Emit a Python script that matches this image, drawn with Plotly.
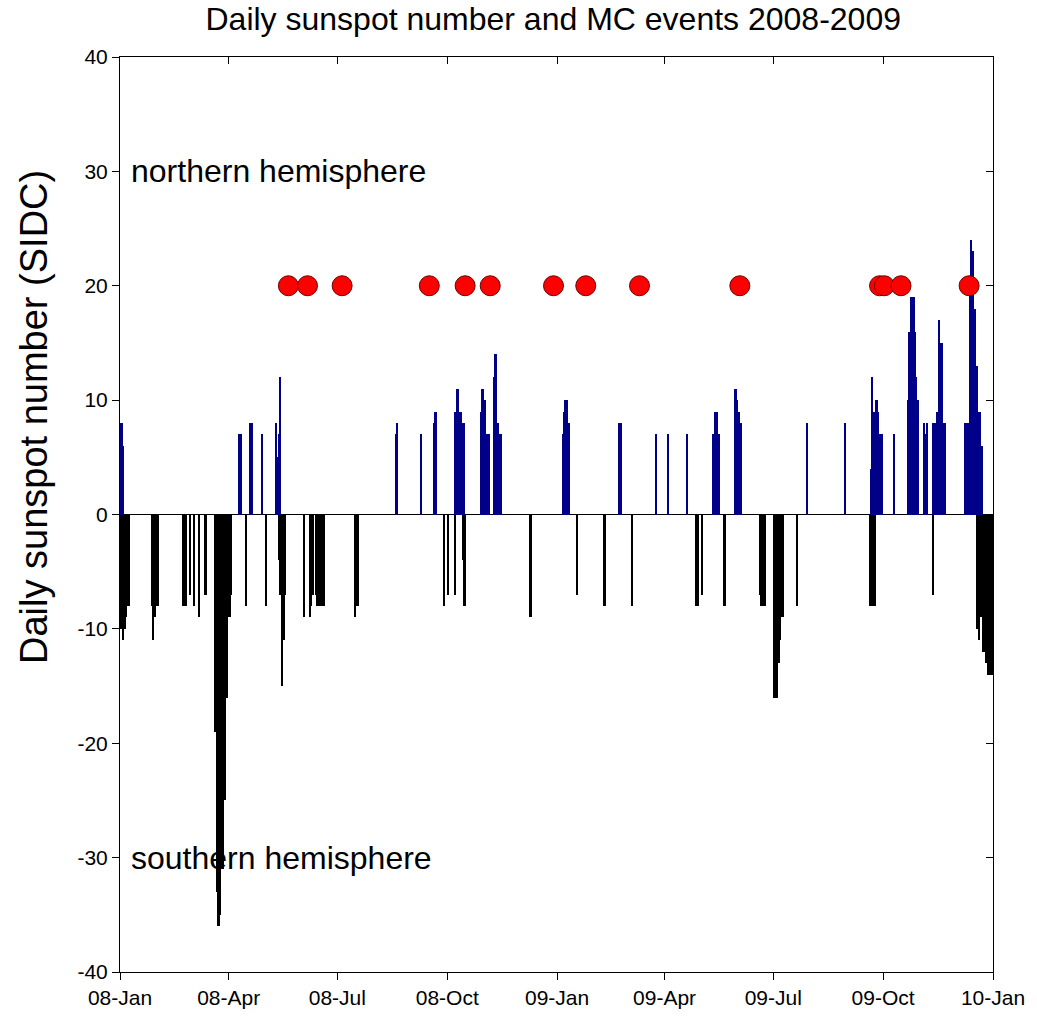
import pandas as pd
import plotly.graph_objects as go

# ---- data: daily sunspot number runs (start date, consecutive daily values) ----
north_starts = [
    "2008-01-02", "2008-04-10", "2008-04-19", "2008-04-29", "2008-05-11",
    "2008-08-19", "2008-09-09", "2008-09-20", "2008-10-08", "2008-10-29",
    "2008-11-09", "2009-01-06", "2009-02-22", "2009-03-25", "2009-04-04",
    "2009-04-20", "2009-05-12", "2009-05-30", "2009-07-29", "2009-08-30",
    "2009-09-21", "2009-10-10", "2009-10-22", "2009-11-04", "2009-11-06",
    "2009-11-12", "2009-12-09",
]
north_values = [
    [8, 8, 6], [7, 7], [8, 8, 8], [7], [8, 5, 7, 12],
    [7, 8], [7], [8, 9, 9], [9, 11, 11, 9, 9, 9, 8, 8], [9, 11, 11, 10, 10, 7, 7, 7],
    [12, 14, 14, 8, 8, 7, 7], [7, 9, 10, 10, 8, 8], [8, 8, 8], [7], [7],
    [7], [7, 9, 8, 9, 7, 7], [11, 11, 10, 9, 8, 8], [8], [8],
    [4, 12, 9, 9, 10, 10, 9, 7, 7, 7], [7], [10, 16, 19, 19, 19, 19, 16, 12, 10], [8], [7, 8],
    [8, 8, 8, 9, 9, 17, 15, 15, 8, 8, 8], [8, 8, 8, 8, 20, 24, 23, 18, 18, 13, 13, 9, 9, 6, 6],
]

south_starts = [
    "2008-01-01", "2008-01-28", "2008-02-23", "2008-02-29", "2008-03-03",
    "2008-03-07", "2008-03-12", "2008-03-21", "2008-04-16", "2008-05-02",
    "2008-05-13", "2008-06-03", "2008-06-08", "2008-06-11", "2008-06-13",
    "2008-07-16", "2008-09-28", "2008-10-02", "2008-10-08", "2008-10-14",
    "2008-12-09", "2009-01-18", "2009-02-09", "2009-03-05", "2009-04-27",
    "2009-05-02", "2009-05-21", "2009-06-20", "2009-07-02", "2009-07-21",
    "2009-09-20", "2009-11-12", "2009-12-19",
]
south_values = [
    [-7, -10, -5, -11, -10, -9, -8, -8, -8], [-8, -11, -9, -8, -8, -8], [-8, -8, -8], [-7], [-8],
    [-9], [-7, -7], [-19, -33, -36, -36, -35, -31, -31, -25, -25, -16, -16, -9, -9, -7], [-8], [-8],
    [-4, -7, -7, -15, -11, -7], [-9], [-9, -8], [-7], [-7, -8, -8, -8, -8, -8, -8, -8],
    [-9, -8, -8], [-8], [-7], [-7], [-4, -8, -8],
    [-9, -9], [-7], [-8, -8], [-8], [-8, -8, -8],
    [-7], [-8, -8], [-7, -8, -8, -8, -8], [-16, -16, -16, -13, -13, -11, -9, -9], [-8],
    [-8, -8, -8, -8, -8], [-7], [-10, -11, -6, -9, -9, -12, -12, -13, -13, -14, -14, -14, -14],
]

mc_dates = [
    "2008-05-21", "2008-06-06", "2008-07-05", "2008-09-16", "2008-10-16",
    "2008-11-06", "2008-12-29", "2009-01-25", "2009-03-11", "2009-06-03",
    "2009-09-28", "2009-10-02", "2009-10-16", "2009-12-12",
]
mc_level = 20

tick_dates = ["2008-01-01", "2008-04-01", "2008-07-01", "2008-10-01", "2009-01-01",
              "2009-04-01", "2009-07-01", "2009-10-01", "2010-01-01"]
tick_labels = ["08-Jan", "08-Apr", "08-Jul", "08-Oct", "09-Jan",
               "09-Apr", "09-Jul", "09-Oct", "10-Jan"]
y_ticks = [-40, -30, -20, -10, 0, 10, 20, 30, 40]
y_tick_labels = ["-40", "-30", "-20", "-10", "0", "10", "20", "30", "40"]


def expand(starts, values):
    xs, ys = [], []
    for s, vals in zip(starts, values):
        days = pd.date_range(s, periods=len(vals), freq="D")
        xs.extend(days)
        ys.extend(vals)
    return xs, ys


nx, ny = expand(north_starts, north_values)
sx, sy = expand(south_starts, south_values)

DAY = 86400000
FONT = "Liberation Sans, Arial, sans-serif"

fig = go.Figure()
fig.add_trace(go.Bar(x=nx, y=ny, width=DAY, marker=dict(color="#000088", line=dict(width=0)),
                     showlegend=False))
fig.add_trace(go.Bar(x=sx, y=sy, width=DAY, marker=dict(color="#000000", line=dict(width=0)),
                     showlegend=False))
fig.add_trace(go.Scatter(x=pd.to_datetime(mc_dates), y=[mc_level] * len(mc_dates), mode="markers",
                         marker=dict(size=20, color="#ff0000", line=dict(color="#6a0000", width=1)),
                         showlegend=False))
# helper trace for mirrored axes
fig.add_trace(go.Scatter(x=[tick_dates[0]], y=[0], xaxis="x2", yaxis="y2", mode="markers",
                         marker=dict(opacity=0), showlegend=False, hoverinfo="skip"))

fig.update_layout(
    width=1037, height=1022,
    margin=dict(l=120, r=44, t=57, b=50),
    paper_bgcolor="white", plot_bgcolor="white",
    barmode="overlay", bargap=0,
    font=dict(family=FONT, color="black"),
    title=dict(text="Daily sunspot number and MC events 2008-2009", x=0.5335, xanchor="center",
               y=1 - 19 / 1022, yanchor="middle", yref="container",
               font=dict(size=32, family=FONT, color="black")),
    xaxis=dict(type="date", range=["2008-01-01", "2010-01-01"], tickvals=tick_dates,
               ticktext=tick_labels, ticks="outside", ticklen=7, tickcolor="black",
               showline=True, linecolor="black", linewidth=1, showgrid=False, zeroline=False,
               automargin=False, tickfont=dict(size=21, family=FONT, color="black")),
    yaxis=dict(range=[-40, 40], tickvals=y_ticks, ticktext=y_tick_labels,
               ticks="outside", ticklen=7, tickcolor="black", showline=True, linecolor="black",
               linewidth=1, showgrid=False, zeroline=True, zerolinecolor="black", zerolinewidth=1,
               automargin=False, tickfont=dict(size=21, family=FONT, color="black")),
    xaxis2=dict(type="date", overlaying="x", side="top", matches="x", range=["2008-01-01", "2010-01-01"],
                tickvals=tick_dates, ticks="inside", ticklen=7, tickcolor="black", showticklabels=False,
                showline=True, linecolor="black", linewidth=1, showgrid=False, zeroline=False,
                automargin=False),
    yaxis2=dict(overlaying="y", side="right", matches="y", range=[-40, 40],
                tickvals=y_ticks, ticks="inside", ticklen=7,
                tickcolor="black", showticklabels=False, showline=True, linecolor="black",
                linewidth=1, showgrid=False, zeroline=False, automargin=False),
    annotations=[
        dict(text="northern hemisphere", x=0, xref="paper", xshift=9, xanchor="left",
             y=30, yref="y", yanchor="middle", showarrow=False,
             font=dict(size=32, family=FONT, color="black")),
        dict(text="southern hemisphere", x=0, xref="paper", xshift=9, xanchor="left",
             y=-30, yref="y", yanchor="middle", showarrow=False,
             font=dict(size=32, family=FONT, color="black")),
        dict(text="Daily sunspot number (SIDC)", x=(34 - 120) / (1037 - 120 - 44), xref="paper",
             xanchor="center", y=(972 - 417) / (972 - 57), yref="paper", yanchor="middle",
             textangle=-90, showarrow=False,
             font=dict(size=38, family=FONT, color="black")),
    ],
)

fig.write_html("out.html", config={"displayModeBar": False},
               post_script="document.body.style.margin='0';")
